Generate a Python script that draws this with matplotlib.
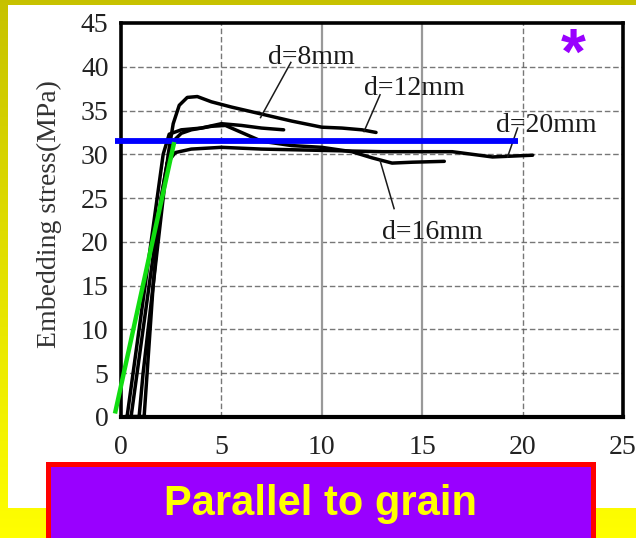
import numpy as np
import matplotlib
matplotlib.use("Agg")
import matplotlib.pyplot as plt
from matplotlib.patches import Rectangle

# embedding stress curves (slip mm, stress MPa)
d8_x = [0.3, 0.6, 0.9, 1.2, 1.5, 1.8, 2.1, 2.4, 3.0, 4.0, 5.0, 6.0, 7.0, 8.1]
d8_y = [0, 5, 10, 15, 20, 25, 30, 32.3, 32.8, 33.0, 33.5, 33.3, 33.0, 32.8]

d12_x = [0.9, 1.1, 1.35, 1.6, 1.85, 2.1, 2.35, 2.6, 2.9, 3.3, 3.8, 4.5, 5.5, 7.0, 8.5, 10.0, 11.0, 12.0, 12.7]
d12_y = [0, 5, 10, 15, 20, 25, 30, 33.5, 35.6, 36.5, 36.6, 36.0, 35.4, 34.6, 33.8, 33.1, 33.0, 32.8, 32.5]

d16_x = [0.5, 0.8, 1.1, 1.4, 1.7, 2.0, 2.3, 2.6, 3.0, 3.5, 4.5, 5.2, 6.0, 7.0, 8.5, 10.0, 11.5, 12.5, 13.5, 14.5, 16.1]
d16_y = [0, 5, 10, 15, 20, 25, 29, 31.5, 32.4, 32.8, 33.2, 33.3, 32.5, 31.5, 31.0, 30.8, 30.3, 29.6, 29.0, 29.1, 29.2]

d20_x = [1.15, 1.3, 1.45, 1.6, 1.8, 2.0, 2.3, 2.7, 3.5, 5.0, 7.0, 9.0, 11.0, 13.0, 15.0, 16.5, 17.5, 18.5, 19.5, 20.5]
d20_y = [0, 5, 10, 15, 20, 25, 29, 30.2, 30.6, 30.8, 30.6, 30.5, 30.4, 30.3, 30.3, 30.3, 30.0, 29.7, 29.8, 29.9]

# labels and their leader lines
labels = ["d=8mm", "d=12mm", "d=20mm", "d=16mm"]
label_x = [9.5, 14.6, 21.2, 15.5]
label_y = [40.3, 36.8, 32.6, 20.3]
leader_x = [[8.46, 6.95], [12.9, 12.1], [19.75, 19.25], [13.6, 12.9]]
leader_y = [[40.5, 34.2], [36.8, 32.6], [33.0, 29.7], [23.8, 29.3]]

# overlaid yield line and elastic slope
blue_x = [-0.3, 19.75]
blue_y = [31.5, 31.5]
green_x = [-0.3, 2.65]
green_y = [0.4, 31.4]

xticks = [0, 5, 10, 15, 20, 25]
yticks = [0, 5, 10, 15, 20, 25, 30, 35, 40, 45]

W, H = 636, 538
fig = plt.figure(figsize=(W / 100, H / 100), dpi=100)

# yellow gradient background
bg = fig.add_axes([0, 0, 1, 1], zorder=-10)
grad = np.linspace(0, 1, 256).reshape(-1, 1)
top_c = np.array([0.78, 0.76, 0.0])
bot_c = np.array([1.0, 1.0, 0.0])
img = top_c[None, None, :] * (1 - grad[:, :, None]) + bot_c[None, None, :] * grad[:, :, None]
bg.imshow(img, aspect="auto", extent=[0, 1, 0, 1])
bg.set_xlim(0, 1)
bg.set_ylim(0, 1)
bg.axis("off")


def fx(px):
    return px / W


def fy(py):
    return 1 - py / H


# white panel
fig.patches.append(Rectangle((fx(8), fy(508)), fx(640) - fx(8), fy(5) - fy(508),
                             transform=fig.transFigure, facecolor="white",
                             edgecolor="none", zorder=-5))

ax = fig.add_axes([fx(121), fy(417), fx(623) - fx(121), fy(23) - fy(417)])
ax.set_xlim(0, 25)
ax.set_ylim(0, 45)

for g in yticks[1:-1]:
    ax.axhline(g, color="#555555", lw=1.0, ls=(0, (4, 2)), alpha=0.8, zorder=1)
for g in [5, 20]:
    ax.axvline(g, color="#555555", lw=1.0, ls=(0, (4, 2)), alpha=0.8, zorder=1)
for g in [10, 15]:
    ax.axvline(g, color="#999999", lw=1.6, zorder=1)

for xs, ys in [(d8_x, d8_y), (d12_x, d12_y), (d16_x, d16_y), (d20_x, d20_y)]:
    ax.plot(xs, ys, color="black", lw=2.5, zorder=3, solid_joinstyle="round",
            solid_capstyle="round")
ax.plot([0.25, 1.15], [0.15, 0.15], color="black", lw=2.5, zorder=3)

for lab, lx, ly, kx, ky in zip(labels, label_x, label_y, leader_x, leader_y):
    ax.text(lx, ly, lab, ha="center", va="baseline", fontsize=20,
            family="Liberation Serif", color="#1a1a1a", zorder=4)
    ax.plot(kx, ky, color="#1a1a1a", lw=1.1, zorder=4)

ax.plot(blue_x, blue_y, color="#0000ff", lw=4.2, zorder=5, clip_on=False,
        solid_capstyle="butt")
ax.plot(green_x, green_y, color="#11dd11", lw=3.2, zorder=5, clip_on=False,
        solid_capstyle="butt")

ax.text(22.5, 41.1, "*", ha="center", va="center", fontsize=46,
        fontweight="bold", family="Liberation Sans", color="#9900ff")

for s in ax.spines.values():
    s.set_linewidth(2.6)
    s.set_color("black")
ax.spines["bottom"].set_linewidth(3.0)

ax.set_xticks(xticks)
ax.set_yticks(yticks)
ax.tick_params(length=0, labelsize=20, labelcolor="#222222")
ax.tick_params(axis="x", pad=13)
ax.tick_params(axis="y", pad=9)
for t in ax.get_xticklabels() + ax.get_yticklabels():
    t.set_family("Liberation Serif")

ax.set_ylabel("Embedding stress(MPa)", fontsize=20, family="Liberation Serif",
              color="#333333")
ax.yaxis.set_label_coords(-0.118, 0.516)

# purple title box
fig.patches.append(Rectangle((fx(48), fy(545)), fx(593) - fx(48), fy(464) - fy(545),
                             transform=fig.transFigure, facecolor="#9900ff",
                             edgecolor="#ff0000", linewidth=3.6, zorder=10))
fig.text(fx(320), fy(515), "Parallel to grain", ha="center", va="baseline",
         fontsize=30, fontweight="bold", family="Liberation Sans",
         color="#ffff00", zorder=11)

fig.savefig("out.png", dpi=100)
